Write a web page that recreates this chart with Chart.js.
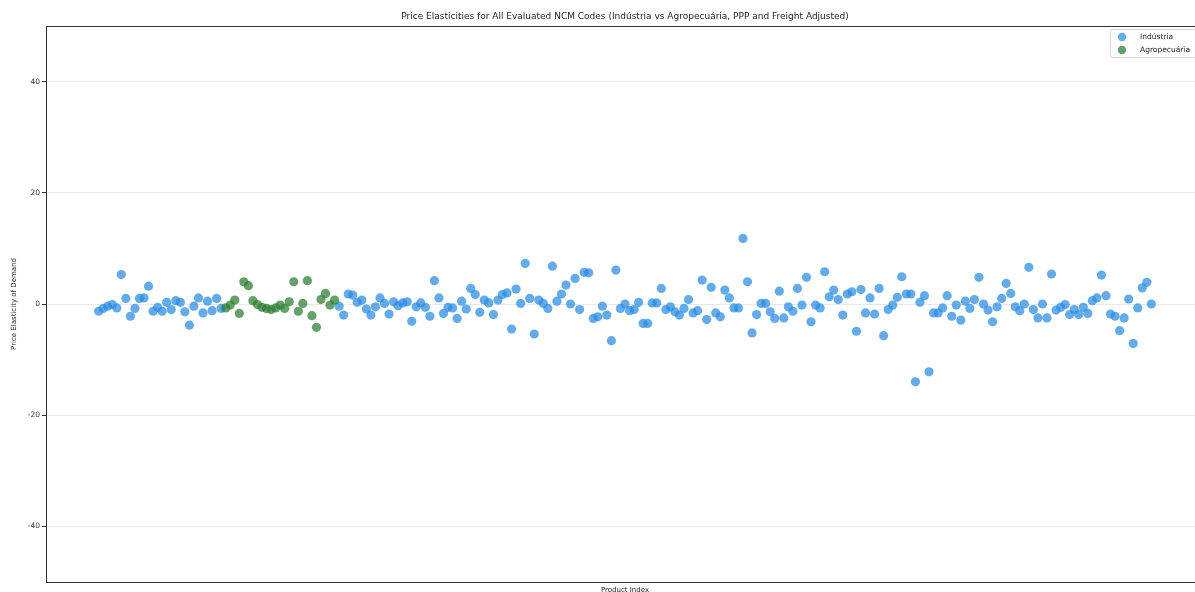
<!DOCTYPE html>
<html>
<head>
<meta charset="utf-8">
<script src="https://cdn.jsdelivr.net/npm/chart.js@4.4.0/dist/chart.umd.min.js"></script>
<style>
html, body { margin: 0; padding: 0; background: #fff; overflow: hidden; width: 1195px; height: 592px; }
canvas { display: block; }
</style>
</head>
<body>
<canvas id="chart" width="1210" height="600"></canvas>
<script>
// elasticidades, na ordem do índice do produto
const industriaA = [
  -1.3, -0.8, -0.4, -0.1, -0.7, 5.3, 1.0, -2.2, -0.8, 1.0,
  1.1, 3.2, -1.3, -0.6, -1.3, 0.3, -1.0, 0.6, 0.3, -1.4,
  -3.8, -0.4, 1.1, -1.6, 0.5, -1.2, 1.0, -0.8
];
const agropecuaria = [
  -0.7, -0.2, 0.7, -1.7, 4.0, 3.3, 0.6, -0.1, -0.6, -0.8,
  -1.0, -0.7, -0.2, -0.8, 0.4, 4.0, -1.3, 0.1, 4.2, -2.1,
  -4.2, 0.8, 1.9, -0.2, 0.7
];
const industriaB = [
  -0.4, -2.0, 1.8, 1.6, 0.3, 0.7, -0.9, -2.0, -0.5, 1.1, 0.1, -1.8, 0.4, -0.3,
  0.2, 0.4, -3.1, -0.5, 0.2, -0.6, -2.2, 4.2, 1.1, -1.7,
  -0.6, -0.7, -2.6, 0.5, -0.9, 2.8, 1.7, -1.5, 0.7, 0.2,
  -1.9, 0.7, 1.7, 2.0, -4.5, 2.7, 0.1, 7.3, 1.0, -5.4,
  0.7, 0.1, -0.8, 6.8, 0.5, 1.8, 3.4, 0.0, 4.6, -1.0,
  5.7, 5.6, -2.6, -2.3, -0.4, -2.0, -6.6, 6.1, -0.8, 0.0,
  -1.2, -1.0, 0.3, -3.5, -3.5, 0.2, 0.2, 2.8, -1.0, -0.5,
  -1.4, -2.0, -0.8, 0.8, -1.6, -1.2, 4.3, -2.8, 3.0, -1.6,
  -2.3, 2.5, 1.1, -0.7, -0.7, 11.8, 4.0, -5.2, -1.9, 0.1,
  0.1, -1.4, -2.6, 2.3, -2.5, -0.5, -1.3, 2.8, -0.2, 4.8,
  -3.2, -0.2, -0.7, 5.8, 1.3, 2.5, 0.8, -2.0, 1.8, 2.2,
  -4.9, 2.6, -1.6, 1.1, -1.8, 2.8, -5.7, -1.0, -0.2, 1.2,
  4.9, 1.8, 1.8, -14.0, 0.3, 1.5, -12.2, -1.6, -1.6, -0.7,
  1.5, -2.2, -0.2, -2.9, 0.5, -0.8, 0.8, 4.8, 0.0, -1.1,
  -3.2, -0.5, 1.0, 3.7, 1.9, -0.5, -1.2, 0.0, 6.6, -1.0,
  -2.5, 0.0, -2.5, 5.4, -1.1, -0.6, -0.1, -1.9, -1.0, -1.9,
  -0.6, -1.7, 0.6, 1.1, 5.2, 1.5, -1.8, -2.2, -4.8, -2.5,
  0.9, -7.1, -0.7, 2.9, 3.9, 0.0
];
const seriesNames = ['Indústria', 'Agropecuária'];
const yTicks = [-40, -20, 0, 20, 40];

const agroStart = industriaA.length;
const bStart = agroStart + agropecuaria.length;
const nTotal = bStart + industriaB.length;

const industriaPts = industriaA.map((v, i) => ({x: i, y: v}))
  .concat(industriaB.map((v, i) => ({x: bStart + i, y: v})));
const agroPts = agropecuaria.map((v, i) => ({x: agroStart + i, y: v}));

const FONT = '"DejaVu Sans", sans-serif';

// titulo, moldura e legenda dentro da área do gráfico
const extras = {
  id: 'extras',
  afterDraw(chart) {
    const ctx = chart.ctx, a = chart.chartArea;
    ctx.save();
    ctx.strokeStyle = '#333';
    ctx.lineWidth = 1;
    ctx.strokeRect(Math.round(a.left) + 0.5, Math.round(a.top) + 0.5, a.right - a.left, a.bottom - a.top);

    ctx.fillStyle = '#222';
    ctx.font = '9px ' + FONT;
    ctx.textAlign = 'center';
    ctx.textBaseline = 'middle';
    ctx.fillText('Price Elasticities for All Evaluated NCM Codes (Indústria vs Agropecuária, PPP and Freight Adjusted)',
      (a.left + a.right) / 2, 17);

    const x0 = a.right - 94, y0 = 29, w = 86, h = 28;
    ctx.fillStyle = 'rgba(255,255,255,0.8)';
    ctx.strokeStyle = '#d6d6d6';
    ctx.beginPath();
    ctx.roundRect(x0 + 0.5, y0 + 0.5, w, h, 2);
    ctx.fill();
    ctx.stroke();
    ctx.textAlign = 'left';
    ctx.font = '7.5px ' + FONT;
    chart.data.datasets.forEach((ds, i) => {
      const cy = y0 + 8 + i * 13;
      ctx.fillStyle = ds.backgroundColor;
      ctx.beginPath();
      ctx.arc(x0 + 12, cy, 4.2, 0, Math.PI * 2);
      ctx.fill();
      ctx.fillStyle = '#222';
      ctx.fillText(ds.label, x0 + 30, cy);
    });
    ctx.restore();
  }
};

new Chart(document.getElementById('chart'), {
  type: 'scatter',
  data: {
    datasets: [
      {
        label: seriesNames[0],
        data: industriaPts,
        backgroundColor: 'rgba(40,138,228,0.72)',
        borderWidth: 0,
        pointRadius: 4.6,
        order: 1
      },
      {
        label: seriesNames[1],
        data: agroPts,
        backgroundColor: 'rgba(40,124,46,0.72)',
        borderWidth: 0,
        pointRadius: 4.6,
        order: 0
      }
    ]
  },
  options: {
    responsive: false,
    animation: false,
    layout: { padding: { left: 0, right: 6, top: 26, bottom: 0 } },
    plugins: {
      legend: { display: false },
      title: { display: false },
      tooltip: { enabled: false }
    },
    scales: {
      x: {
        type: 'linear',
        min: -0.05 * (nTotal - 1),
        max: (nTotal - 1) * 1.05,
        ticks: { display: false },
        grid: { display: false },
        border: { color: '#333' },
        title: { display: true, text: 'Product Index', color: '#222', font: { family: FONT, size: 7 }, padding: { top: 0, bottom: 6 } },
        afterFit(scale) { scale.height = 18; }
      },
      y: {
        min: -50,
        max: 50,
        afterBuildTicks(scale) { scale.ticks = yTicks.map(v => ({value: v})); },
        ticks: { color: '#333', font: { family: FONT, size: 7.5 }, padding: 2 },
        grid: { color: 'rgba(0,0,0,0.09)', tickColor: '#333', tickLength: 4 },
        border: { color: '#333' },
        title: { display: true, text: 'Price Elasticity of Demand', color: '#222', font: { family: FONT, size: 7 }, padding: { top: 10, bottom: 0 } },
        afterFit(scale) { scale.width = 46; }
      }
    }
  },
  plugins: [extras]
});
</script>
</body>
</html>
